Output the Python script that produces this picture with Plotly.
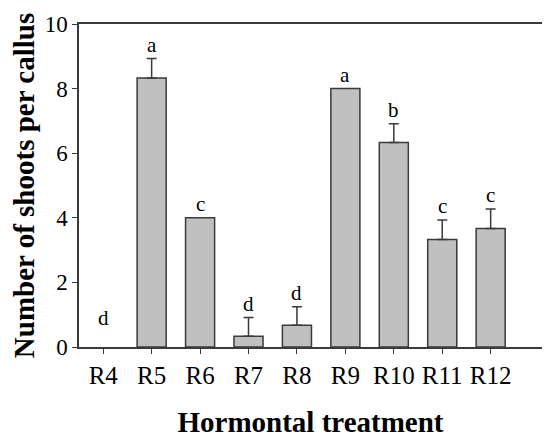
import plotly.graph_objects as go

# valores
tratamentos = ["R4", "R5", "R6", "R7", "R8", "R9", "R10", "R11", "R12"]
brotos = [0, 8.33, 4.0, 0.33, 0.67, 8.0, 6.33, 3.33, 3.67]
erro = [0, 0.6, 0, 0.58, 0.58, 0, 0.58, 0.6, 0.6]
letras = ["d", "a", "c", "d", "d", "a", "b", "c", "c"]

fonte = "Liberation Serif, Times New Roman, serif"
cor_linha = "#3a3a3a"

fig = go.Figure()

# barra com valor zero não tem contorno visível
contorno = [0 if v == 0 else 1.5 for v in brotos]

fig.add_trace(go.Bar(
    x=tratamentos, y=brotos, width=0.6,
    marker=dict(color="#c0c0c0", line=dict(color=cor_linha, width=contorno)),
    showlegend=False, hoverinfo="skip",
))

# barras de erro só para quem tem erro (só para cima)
com_erro = [i for i, e in enumerate(erro) if e > 0]
fig.add_trace(go.Scatter(
    x=[tratamentos[i] for i in com_erro],
    y=[brotos[i] for i in com_erro],
    mode="markers", marker=dict(size=1, color="rgba(0,0,0,0)"),
    error_y=dict(type="data", symmetric=False,
                 array=[erro[i] for i in com_erro],
                 arrayminus=[0] * len(com_erro),
                 color=cor_linha, thickness=1.5, width=5),
    showlegend=False,
))

# letras de significância acima das barras
for t, v, e, l in zip(tratamentos, brotos, erro, letras):
    fig.add_annotation(x=t, y=max(v + e, 0.45), text=l, showarrow=False,
                       yanchor="bottom", yshift=0,
                       font=dict(family=fonte, size=21, color="black"))

# a página tem 8px de margem no body
fig.update_layout(
    width=542, height=438,
    margin=dict(l=71, r=8, t=16, b=99),
    plot_bgcolor="white", paper_bgcolor="white",
    font=dict(family=fonte, color="black"),
    bargap=0.4,
)

fig.update_xaxes(
    range=[-0.5, 9.06], automargin=False,
    showline=True, linecolor=cor_linha, linewidth=1.5, mirror=True,
    ticks="outside", ticklen=5, tickcolor=cor_linha, tickwidth=1.2,
    tickfont=dict(family=fonte, size=25, color="black"),
    title=dict(text="<b>Hormontal treatment</b>", standoff=24,
               font=dict(family=fonte, size=29, color="black")),
)

fig.update_yaxes(
    range=[0, 10], dtick=2, automargin=False,
    showline=True, linecolor=cor_linha, linewidth=1.5, mirror=True,
    showgrid=False, zeroline=False,
    ticks="outside", ticklen=5, tickcolor=cor_linha, tickwidth=1.2,
    tickfont=dict(family=fonte, size=23, color="black"),
    title=dict(text="<b>Number of shoots per callus</b>", standoff=8,
               font=dict(family=fonte, size=29, color="black")),
)

fig.write_html("out.html")
